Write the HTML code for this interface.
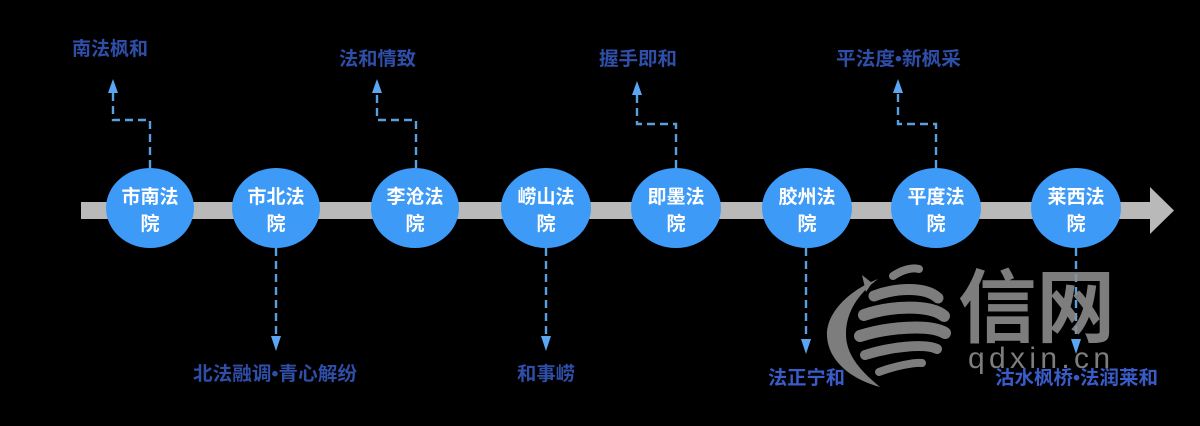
<!DOCTYPE html>
<html>
<head>
<meta charset="utf-8">
<style>
  html, body { margin: 0; padding: 0; background: #000; }
  body { width: 1200px; height: 426px; overflow: hidden; }
  svg { display: block; }
  .cjk { font-family: "Liberation Sans", "Noto Sans CJK SC", "WenQuanYi Zen Hei", sans-serif; }
</style>
</head>
<body>
<svg width="1200" height="426" viewBox="0 0 1200 426" xmlns="http://www.w3.org/2000/svg">
  <rect x="0" y="0" width="1200" height="426" fill="#000"/>

  <!-- main bar + arrow -->
  <rect x="81" y="202" width="1071" height="17" fill="#b9b9b9"/>
  <polygon points="1150,187 1174,210.5 1150,234" fill="#b9b9b9"/>

  <!-- dashed connectors -->
  <g fill="none" stroke="#5a9fe0" stroke-width="2.4" stroke-dasharray="8,5">
    <path d="M150 168 V120 H113 V93"/>
    <path d="M416 168 V120 H377 V93"/>
    <path d="M676 168 V124 H637 V95"/>
    <path d="M936 168 V124 H898 V93"/>
    <path d="M276 248 V337"/>
    <path d="M546 248 V337"/>
    <path d="M806 248 V340"/>
    <path d="M1076 248 V340"/>
  </g>
  <g fill="#5aa6f2">
    <polygon points="113,79 108,93 118,93"/>
    <polygon points="377,79 372,93 382,93"/>
    <polygon points="637,81 632,95 642,95"/>
    <polygon points="898,79 893,93 903,93"/>
    <polygon points="276,351 271,336 281,336"/>
    <polygon points="546,351 541,336 551,336"/>
    <polygon points="806,354 801,339 811,339"/>
    <polygon points="1076,354 1071,339 1081,339"/>
  </g>

  <!-- circles -->
  <g fill="#3d9bf7">
    <ellipse cx="150" cy="208" rx="44" ry="40"/>
    <ellipse cx="276" cy="208" rx="44" ry="40"/>
    <ellipse cx="415" cy="208" rx="44" ry="40"/>
    <ellipse cx="546" cy="208" rx="45" ry="40"/>
    <ellipse cx="676" cy="208" rx="45" ry="40"/>
    <ellipse cx="807" cy="208" rx="45" ry="40"/>
    <ellipse cx="936" cy="208" rx="45" ry="40"/>
    <ellipse cx="1076" cy="208" rx="45" ry="40"/>
  </g>

  <!-- circle labels -->
  <g class="cjk" fill="#ffffff" font-size="19" font-weight="bold" text-anchor="middle">
    <text x="150" y="203">市南法</text><text x="150" y="230">院</text>
    <text x="276" y="203">市北法</text><text x="276" y="230">院</text>
    <text x="415" y="203">李沧法</text><text x="415" y="230">院</text>
    <text x="546" y="203">崂山法</text><text x="546" y="230">院</text>
    <text x="676" y="203">即墨法</text><text x="676" y="230">院</text>
    <text x="807" y="203">胶州法</text><text x="807" y="230">院</text>
    <text x="936" y="203">平度法</text><text x="936" y="230">院</text>
    <text x="1076" y="203">莱西法</text><text x="1076" y="230">院</text>
  </g>

  <!-- outer labels -->
  <g class="cjk" fill="#2f4ea8" font-size="19" font-weight="bold">
    <text x="72" y="55" textLength="76" lengthAdjust="spacingAndGlyphs">南法枫和</text>
    <text x="339" y="65" textLength="77" lengthAdjust="spacingAndGlyphs">法和情致</text>
    <text x="599" y="65" textLength="78" lengthAdjust="spacingAndGlyphs">握手即和</text>
    <text x="836" y="65" textLength="125" lengthAdjust="spacingAndGlyphs">平法度•新枫采</text>
    <text x="193" y="380" textLength="164" lengthAdjust="spacingAndGlyphs">北法融调•青心解纷</text>
    <text x="517" y="380" textLength="58" lengthAdjust="spacingAndGlyphs">和事崂</text>
  </g>
  <g class="cjk" fill="#3a5cc8" font-size="19" font-weight="bold">
    <text x="768" y="384" textLength="77" lengthAdjust="spacingAndGlyphs">法正宁和</text>
    <text x="995" y="384" textLength="163" lengthAdjust="spacingAndGlyphs">沽水枫桥•法润莱和</text>
  </g>

  <!-- watermark -->
  <g opacity="0.88">
    <g fill="#8f8f8f">
      <!-- crescent -->
      <path d="M878 279 C 850 290, 826 312, 827 336 C 828 360, 850 379, 880 387 C 862 372, 846 356, 846 334 C 846 312, 858 294, 878 279 Z"/>
      <path d="M872 283 L 862 275 L 866 292 Z"/>
    </g>
    <g fill="none" stroke="#8f8f8f" stroke-linecap="round">
      <path d="M893 276 C 902 270, 912 267, 919 269" stroke-width="8"/>
      <path d="M874 296 C 895 288, 925 286, 938 298" stroke-width="11"/>
      <path d="M864 315 C 890 306, 930 304, 944 316" stroke-width="12"/>
      <path d="M860 336 C 888 327, 930 324, 945 333" stroke-width="12"/>
      <path d="M865 355 C 890 347, 925 343, 937 349" stroke-width="10"/>
      <path d="M879 372 C 895 366, 915 362, 922 363" stroke-width="8"/>
    </g>
    <text x="958" y="336" class="cjk" font-size="80" font-weight="bold" fill="#8f8f8f" textLength="157" lengthAdjust="spacingAndGlyphs">信网</text>
    <text x="968" y="368" font-family="Liberation Sans, sans-serif" font-size="30" fill="#8f8f8f" textLength="142" lengthAdjust="spacing">qdxin.cn</text>
  </g>
</svg>
</body>
</html>
